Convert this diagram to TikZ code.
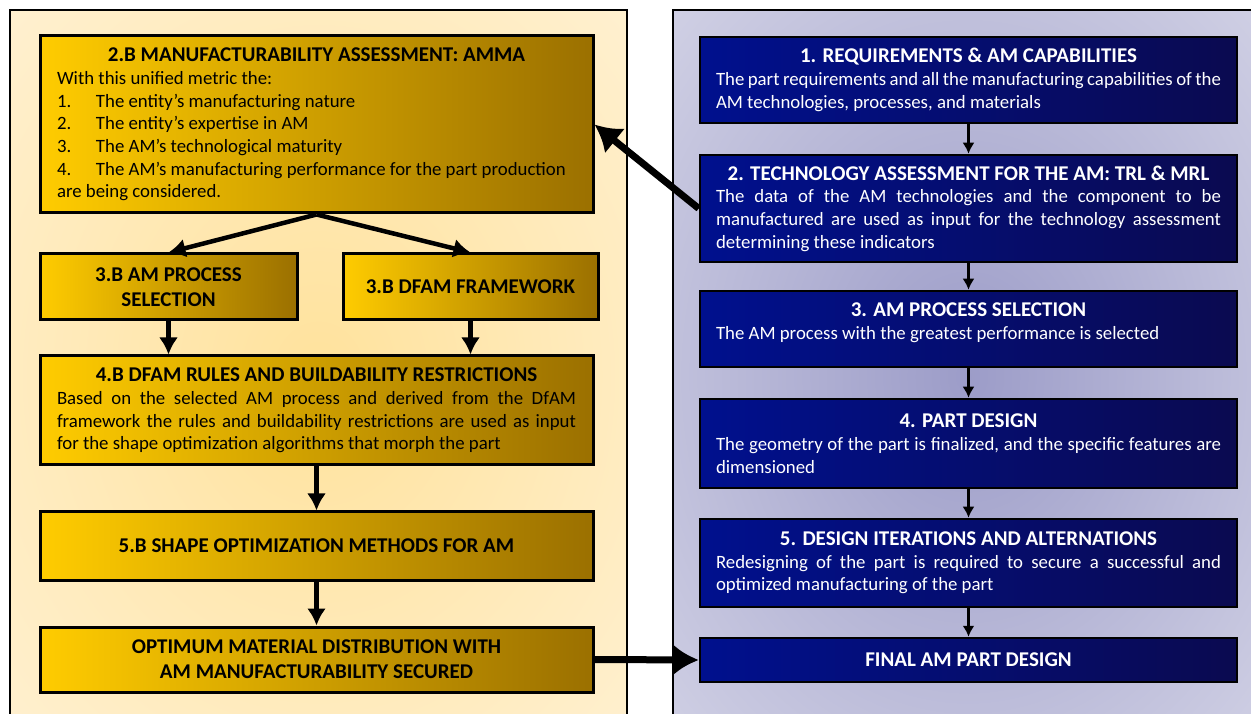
\documentclass[tikz,border=0pt]{standalone}
\usepackage{fontspec}
\setmainfont{Carlito}
\usetikzlibrary{arrows.meta}

\definecolor{goldlight}{RGB}{255,204,0}
\definecolor{golddark}{RGB}{155,112,0}
\definecolor{navylight}{RGB}{0,16,142}
\definecolor{navydark}{RGB}{10,10,80}
\definecolor{creamin}{RGB}{255,226,156}
\definecolor{creamout}{RGB}{255,245,226}
\definecolor{lilacin}{RGB}{156,156,200}
\definecolor{lilacout}{RGB}{226,226,238}

\pgfdeclareradialshading{creamglow}{\pgfpoint{0bp}{0bp}}{color(0bp)=(creamin); color(48bp)=(creamout); color(75bp)=(creamout)}
\pgfdeclareradialshading{lilacglow}{\pgfpoint{0bp}{0bp}}{color(0bp)=(lilacin); color(48bp)=(lilacout); color(75bp)=(lilacout)}

\hyphenpenalty=10000
\exhyphenpenalty=10000
\tolerance=9999

\newcommand\boxhead[1]{{\centering\bfseries\fontsize{21}{25}\selectfont #1\par}}
\newcommand\listno[1]{\makebox[39pt][l]{#1}}

\begin{document}
\begin{tikzpicture}[x=1pt, y=1pt,
  goldbox/.style={draw=black, line width=3pt, left color=goldlight, right color=golddark,
    text=black, inner xsep=17pt, inner ysep=3pt, align=justify,
    font=\fontsize{18.8}{22.7}\selectfont},
  bluebox/.style={draw=black, line width=2.5pt, left color=navylight, right color=navydark,
    text=white, inner xsep=16pt, inner ysep=3pt, text width=505pt, align=justify,
    font=\fontsize{18.8}{22.7}\selectfont},
  goldarrow/.style={-{Latex[length=17pt,width=19pt]}, line width=4.5pt},
  bluearrow/.style={-{Latex[length=11pt,width=12pt]}, line width=2.5pt},
  bigarrow/.style={-{Latex[length=26pt,width=32pt]}, line width=7pt}]

\useasboundingbox (0,0) rectangle (1251,713);
\clip (0,0) rectangle (1251,713);

% panels
\draw[line width=2pt, shading=creamglow] (10,703) rectangle (627,-30);
\draw[line width=2pt, shading=lilacglow] (673,703) rectangle (1262,-30);

% left column
\node[goldbox, text width=519pt, minimum height=177pt] (amma) at (316.5,588.5) {%
  \boxhead{2.B MANUFACTURABILITY ASSESSMENT: AMMA}
  With this unified metric the:\\
  \listno{1.}The entity's manufacturing nature\\
  \listno{2.}The entity's expertise in AM\\
  \listno{3.}The AM's technological maturity\\
  \listno{4.}The AM's manufacturing performance for the part production\\
  are being considered.};

\node[goldbox, text width=223pt, minimum height=66pt] (apsel) at (168.5,426) {\boxhead{3.B AM PROCESS\\SELECTION}};
\node[goldbox, text width=221pt, minimum height=66pt] (dfam) at (470.5,426) {\boxhead{3.B DFAM FRAMEWORK}};

\node[goldbox, text width=519pt, minimum height=109pt] (rules) at (316.5,302.5) {%
  \boxhead{4.B DFAM RULES AND BUILDABILITY RESTRICTIONS}
  Based on the selected AM process and derived from the DfAM framework the rules and buildability restrictions are used as input for the shape optimization algorithms that morph the part};

\node[goldbox, text width=519pt, minimum height=68pt] (shape) at (316.5,167) {\boxhead{5.B SHAPE OPTIMIZATION METHODS FOR AM}};
\node[goldbox, text width=519pt, minimum height=65pt] (optimum) at (316.5,53.5) {\boxhead{OPTIMUM MATERIAL DISTRIBUTION WITH\\AM MANUFACTURABILITY SECURED}};

\draw[goldarrow] (amma.south) -- (apsel.north);
\draw[goldarrow] (amma.south) -- (dfam.north);
\draw[goldarrow] (apsel.south) -- (apsel.south |- rules.north);
\draw[goldarrow] (dfam.south) -- (dfam.south |- rules.north);
\draw[goldarrow] (rules) -- (shape);
\draw[goldarrow] (shape) -- (optimum);

% right column
\node[bluebox, minimum height=86pt] (req) at (968.5,633) {%
  \boxhead{1. REQUIREMENTS \& AM CAPABILITIES}
  The part requirements and all the manufacturing capabilities of the AM technologies, processes, and materials};
\node[bluebox, minimum height=107pt] (tech) at (968.5,504.5) {%
  \boxhead{2. TECHNOLOGY ASSESSMENT FOR THE AM: TRL \& MRL}
  The data of the AM technologies and the component to be manufactured are used as input for the technology assessment determining these indicators};
\node[bluebox, minimum height=76pt] (proc) at (968.5,384) {%
  \boxhead{3. AM PROCESS SELECTION}
  The AM process with the greatest performance is selected\rule[-16pt]{0pt}{16pt}};
\node[bluebox, minimum height=89pt] (design) at (968.5,269.5) {%
  \boxhead{4. PART DESIGN}
  The geometry of the part is finalized, and the specific features are dimensioned};
\node[bluebox, minimum height=88pt] (iter) at (968.5,150) {%
  \boxhead{5. DESIGN ITERATIONS AND ALTERNATIONS}
  Redesigning of the part is required to secure a successful and optimized manufacturing of the part};
\node[bluebox, minimum height=44pt] (final) at (968.5,53) {\boxhead{FINAL AM PART DESIGN}};

\draw[bluearrow] (req) -- (tech);
\draw[bluearrow] (tech) -- (proc);
\draw[bluearrow] (proc) -- (design);
\draw[bluearrow] (design) -- (iter);
\draw[bluearrow] (iter) -- (final);

% between the columns
\draw[bigarrow] (tech.west) -- (amma.east);
\draw[bigarrow] (optimum.east) -- (final.west);

\end{tikzpicture}
\end{document}
